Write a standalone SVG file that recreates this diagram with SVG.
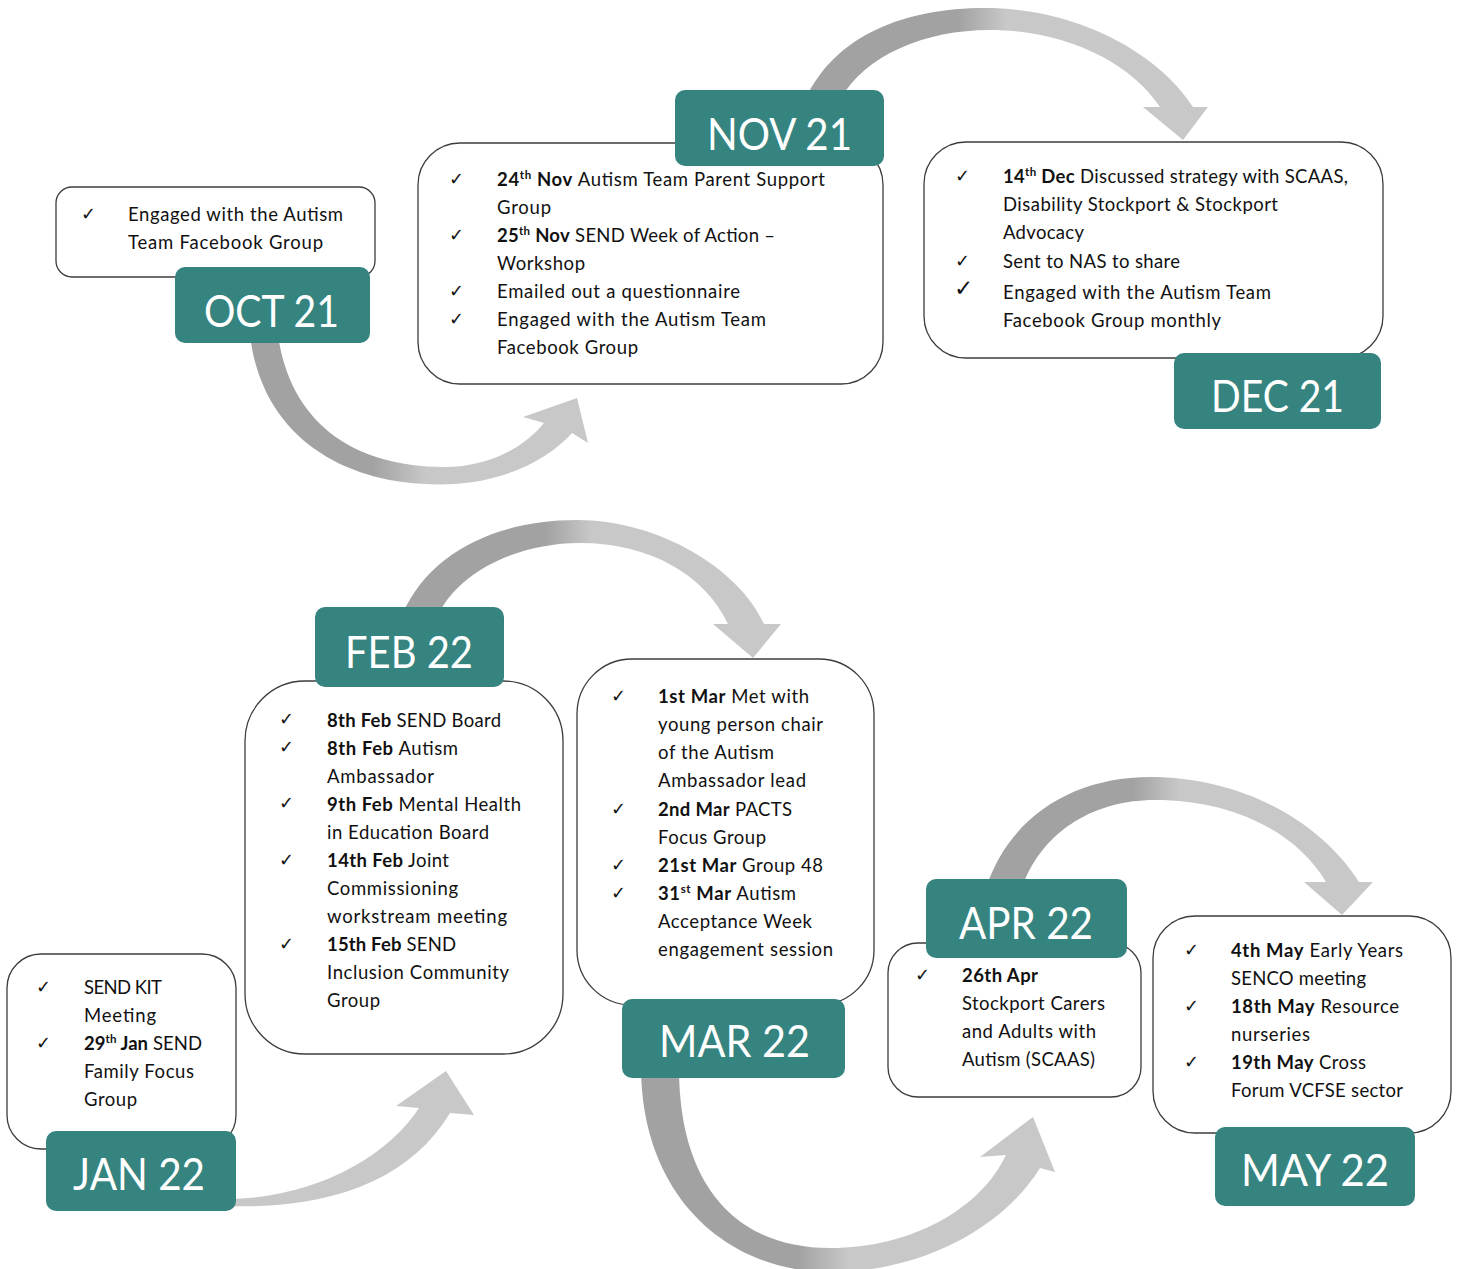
<svg xmlns="http://www.w3.org/2000/svg" width="1459" height="1269" viewBox="0 0 1459 1269">
<style>
.box{fill:#fff;stroke:#3c3c3c;stroke-width:1.3}
.lab{fill:#358480}
.lt{font-family:Lato,'Open Sans',sans-serif;font-size:44px;fill:#fff;text-anchor:middle}
.t{font-family:Lato,'Open Sans',sans-serif;font-size:18.5px;fill:#111}
.b{font-weight:700}
.sup{font-size:11.5px;font-weight:700;baseline-shift:7px}
.ck{font-family:'DejaVu Sans',sans-serif;font-size:18px;fill:#111}
</style>
<defs>
<linearGradient id="g1" gradientUnits="userSpaceOnUse" x1="250" y1="0" x2="590" y2="0"><stop offset="0" stop-color="#a2a2a2"/><stop offset="0.36" stop-color="#a2a2a2"/><stop offset="0.52" stop-color="#c8c8c8"/><stop offset="1" stop-color="#c8c8c8"/></linearGradient>
<linearGradient id="g2" gradientUnits="userSpaceOnUse" x1="805" y1="0" x2="1208" y2="0"><stop offset="0" stop-color="#a2a2a2"/><stop offset="0.38" stop-color="#a2a2a2"/><stop offset="0.5" stop-color="#c8c8c8"/><stop offset="1" stop-color="#c8c8c8"/></linearGradient>
<linearGradient id="g4" gradientUnits="userSpaceOnUse" x1="402" y1="0" x2="781" y2="0"><stop offset="0" stop-color="#a2a2a2"/><stop offset="0.38" stop-color="#a2a2a2"/><stop offset="0.5" stop-color="#c8c8c8"/><stop offset="1" stop-color="#c8c8c8"/></linearGradient>
<linearGradient id="g5" gradientUnits="userSpaceOnUse" x1="641" y1="0" x2="1055" y2="0"><stop offset="0" stop-color="#a2a2a2"/><stop offset="0.38" stop-color="#a2a2a2"/><stop offset="0.5" stop-color="#c8c8c8"/><stop offset="1" stop-color="#c8c8c8"/></linearGradient>
<linearGradient id="g6" gradientUnits="userSpaceOnUse" x1="986" y1="0" x2="1373" y2="0"><stop offset="0" stop-color="#a2a2a2"/><stop offset="0.38" stop-color="#a2a2a2"/><stop offset="0.5" stop-color="#c8c8c8"/><stop offset="1" stop-color="#c8c8c8"/></linearGradient>
</defs>
<g id="connectors">
<path id="a-oct-nov" fill="url(#g1)" d="M250 335 C262 440 350 490 455 484 C505 481 548 460 572 433 L588 443 L577 398 L523 417 L544 423 C522 450 485 467 445 467 C350 467 290 420 278 335 Z"/>
<path id="a-nov-dec" fill="url(#g2)" d="M805 100 C835 35 905 8 985 8 C1080 8 1160 55 1193 107 L1208 107 L1183 140 L1143 107 L1160 107 C1130 62 1065 30 990 30 C925 30 865 55 840 100 Z"/>
<path id="a-jan-feb" fill="#c8c8c8" d="M225 1199 C310 1199 385 1160 419 1108 L396 1106 L446 1071 L474 1115 L450 1113 C410 1180 330 1210 225 1206 Z"/>
<path id="a-feb-mar" fill="url(#g4)" d="M402 615 C430 550 500 520 577 520 C660 520 740 570 764 624 L781 624 L753 658 L713 624 L728 624 C705 575 650 543 580 543 C520 543 460 570 438 615 Z"/>
<path id="a-mar-apr" fill="url(#g5)" d="M641 1070 C643 1200 730 1272 830 1272 C925 1272 1005 1225 1040 1168 L1055 1172 L1033 1117 L980 1157 L1006 1155 C980 1210 910 1248 830 1248 C740 1248 680 1190 679 1070 Z"/>
<path id="a-apr-may" fill="url(#g6)" d="M986 888 C1010 815 1075 777 1150 777 C1240 777 1320 820 1359 882 L1373 882 L1342 915 L1304 882 L1326 882 C1295 830 1230 800 1155 800 C1090 800 1040 835 1022 888 Z"/>
</g>
<g id="node-oct">
<rect class="box" x="56" y="187" width="319" height="90" rx="16"/>
<rect class="lab" x="175" y="267" width="195" height="76" rx="10"/>
<text class="lt" x="271.5" y="327" textLength="135" lengthAdjust="spacingAndGlyphs">OCT 21</text>
<text class="ck" x="81" y="220">✓</text>
<text class="t" x="128" y="221" textLength="215">Engaged with the Autism</text>
<text class="t" x="128" y="249" textLength="195">Team Facebook Group</text>
</g>
<g id="node-nov">
<rect class="box" x="418" y="143" width="465" height="241" rx="42"/>
<rect class="lab" x="675" y="90" width="209" height="76" rx="10"/>
<text class="lt" x="779.5" y="150" textLength="145" lengthAdjust="spacingAndGlyphs">NOV 21</text>
<text class="ck" x="449" y="185">✓</text>
<text class="t" x="497" y="186" textLength="328"><tspan class="b">24</tspan><tspan class="sup">th</tspan><tspan class="b"> Nov</tspan> Autism Team Parent Support</text>
<text class="t" x="497" y="214" textLength="54">Group</text>
<text class="ck" x="449" y="241">✓</text>
<text class="t" x="497" y="242" textLength="278"><tspan class="b">25</tspan><tspan class="sup">th</tspan><tspan class="b"> Nov</tspan> SEND Week of Action –</text>
<text class="t" x="497" y="270" textLength="88">Workshop</text>
<text class="ck" x="449" y="297">✓</text>
<text class="t" x="497" y="298" textLength="243">Emailed out a questionnaire</text>
<text class="ck" x="449" y="325">✓</text>
<text class="t" x="497" y="326" textLength="269">Engaged with the Autism Team</text>
<text class="t" x="497" y="354" textLength="141">Facebook Group</text>
</g>
<g id="node-dec">
<rect class="box" x="924" y="142" width="459" height="216" rx="42"/>
<rect class="lab" x="1174" y="353" width="207" height="76" rx="10"/>
<text class="lt" x="1277.5" y="412" textLength="133" lengthAdjust="spacingAndGlyphs">DEC 21</text>
<text class="ck" x="955" y="182">✓</text>
<text class="t" x="1003" y="183" textLength="345"><tspan class="b">14</tspan><tspan class="sup">th</tspan><tspan class="b"> Dec</tspan> Discussed strategy with SCAAS,</text>
<text class="t" x="1003" y="211" textLength="275">Disability Stockport &amp; Stockport</text>
<text class="t" x="1003" y="239" textLength="81">Advocacy</text>
<text class="ck" x="955" y="267">✓</text>
<text class="t" x="1003" y="268" textLength="177">Sent to NAS to share</text>
<text class="ck" x="954" y="296" style="font-size:23px">✓</text>
<text class="t" x="1003" y="299" textLength="268">Engaged with the Autism Team</text>
<text class="t" x="1003" y="327" textLength="218">Facebook Group monthly</text>
</g>
<g id="node-jan">
<rect class="box" x="7" y="954" width="229" height="195" rx="34"/>
<rect class="lab" x="46" y="1131" width="190" height="80" rx="10"/>
<text class="lt" x="139" y="1190" textLength="132" lengthAdjust="spacingAndGlyphs">JAN 22</text>
<text class="ck" x="36" y="993">✓</text>
<text class="t" x="84" y="994" textLength="78">SEND KIT</text>
<text class="t" x="84" y="1022" textLength="72">Meeting</text>
<text class="ck" x="36" y="1049">✓</text>
<text class="t" x="84" y="1050" textLength="118"><tspan class="b">29</tspan><tspan class="sup">th</tspan><tspan class="b"> Jan</tspan> SEND</text>
<text class="t" x="84" y="1078" textLength="110">Family Focus</text>
<text class="t" x="84" y="1106" textLength="53">Group</text>
</g>
<g id="node-feb">
<rect class="box" x="245" y="681" width="318" height="373" rx="60"/>
<rect class="lab" x="315" y="607" width="189" height="80" rx="10"/>
<text class="lt" x="409" y="668" textLength="128" lengthAdjust="spacingAndGlyphs">FEB 22</text>
<text class="ck" x="279" y="725">✓</text>
<text class="t" x="327" y="727" textLength="174"><tspan class="b">8th Feb</tspan> SEND Board</text>
<text class="ck" x="279" y="753">✓</text>
<text class="t" x="327" y="755" textLength="131"><tspan class="b">8th Feb</tspan> Autism</text>
<text class="t" x="327" y="783" textLength="107">Ambassador</text>
<text class="ck" x="279" y="809">✓</text>
<text class="t" x="327" y="811" textLength="194"><tspan class="b">9th Feb</tspan> Mental Health</text>
<text class="t" x="327" y="839" textLength="162">in Education Board</text>
<text class="ck" x="279" y="866">✓</text>
<text class="t" x="327" y="867" textLength="122"><tspan class="b">14th Feb</tspan> Joint</text>
<text class="t" x="327" y="895" textLength="131">Commissioning</text>
<text class="t" x="327" y="923" textLength="180">workstream meeting</text>
<text class="ck" x="279" y="950">✓</text>
<text class="t" x="327" y="951" textLength="129"><tspan class="b">15th Feb</tspan> SEND</text>
<text class="t" x="327" y="979" textLength="182">Inclusion Community</text>
<text class="t" x="327" y="1007" textLength="53">Group</text>
</g>
<g id="node-mar">
<rect class="box" x="577" y="659" width="297" height="346" rx="55"/>
<rect class="lab" x="622" y="999" width="223" height="79" rx="10"/>
<text class="lt" x="734.5" y="1057" textLength="151" lengthAdjust="spacingAndGlyphs">MAR 22</text>
<text class="ck" x="611" y="702">✓</text>
<text class="t" x="658" y="703" textLength="151"><tspan class="b">1st Mar</tspan> Met with</text>
<text class="t" x="658" y="731" textLength="165">young person chair</text>
<text class="t" x="658" y="759" textLength="116">of the Autism</text>
<text class="t" x="658" y="787" textLength="148">Ambassador lead</text>
<text class="ck" x="611" y="815">✓</text>
<text class="t" x="658" y="816" textLength="134"><tspan class="b">2nd Mar</tspan> PACTS</text>
<text class="t" x="658" y="844" textLength="108">Focus Group</text>
<text class="ck" x="611" y="871">✓</text>
<text class="t" x="658" y="872" textLength="165"><tspan class="b">21st Mar</tspan> Group 48</text>
<text class="ck" x="611" y="899">✓</text>
<text class="t" x="658" y="900" textLength="138"><tspan class="b">31</tspan><tspan class="sup">st</tspan><tspan class="b"> Mar</tspan> Autism</text>
<text class="t" x="658" y="928" textLength="154">Acceptance Week</text>
<text class="t" x="658" y="956" textLength="175">engagement session</text>
</g>
<g id="node-apr">
<rect class="box" x="888" y="943" width="253" height="154" rx="30"/>
<rect class="lab" x="926" y="879" width="201" height="79" rx="10"/>
<text class="lt" x="1026" y="939" textLength="134" lengthAdjust="spacingAndGlyphs">APR 22</text>
<text class="ck" x="915" y="981">✓</text>
<text class="t b" x="962" y="982" textLength="76">26th Apr</text>
<text class="t" x="962" y="1010" textLength="143">Stockport Carers</text>
<text class="t" x="962" y="1038" textLength="134">and Adults with</text>
<text class="t" x="962" y="1066" textLength="133">Autism (SCAAS)</text>
</g>
<g id="node-may">
<rect class="box" x="1153" y="916" width="298" height="217" rx="42"/>
<rect class="lab" x="1215" y="1127" width="200" height="79" rx="10"/>
<text class="lt" x="1315" y="1186" textLength="148" lengthAdjust="spacingAndGlyphs">MAY 22</text>
<text class="ck" x="1184" y="956">✓</text>
<text class="t" x="1231" y="957" textLength="172"><tspan class="b">4th May</tspan> Early Years</text>
<text class="t" x="1231" y="985" textLength="135">SENCO meeting</text>
<text class="ck" x="1184" y="1012">✓</text>
<text class="t" x="1231" y="1013" textLength="168"><tspan class="b">18th May</tspan> Resource</text>
<text class="t" x="1231" y="1041" textLength="79">nurseries</text>
<text class="ck" x="1184" y="1068">✓</text>
<text class="t" x="1231" y="1069" textLength="135"><tspan class="b">19th May</tspan> Cross</text>
<text class="t" x="1231" y="1097" textLength="172">Forum VCFSE sector</text>
</g>
</svg>
